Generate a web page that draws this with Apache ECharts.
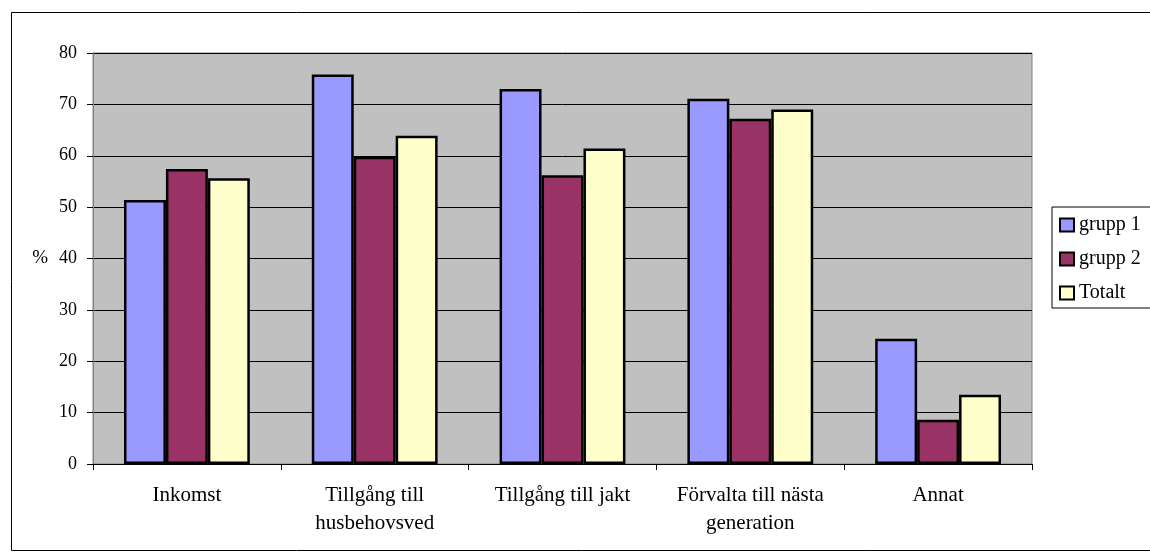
<!DOCTYPE html>
<html>
<head>
<meta charset="utf-8">
<script src="https://cdn.jsdelivr.net/npm/echarts@6/dist/echarts.min.js"></script>
<style>
  html, body { margin: 0; padding: 0; background: #fff; }
  #chart { width: 1150px; height: 557px; }
</style>
</head>
<body>
<div id="chart"></div>
<script>
// kategorier och värden (%)
var categories = ['Inkomst', 'Tillgång till\nhusbehovsved', 'Tillgång till jakt', 'Förvalta till nästa\ngeneration', 'Annat'];
var grupp1 = [51.4, 75.8, 73.0, 71.1, 24.4];
var grupp2 = [57.4, 59.8, 56.2, 67.2, 8.6];
var totalt = [55.6, 63.9, 61.4, 69.0, 13.5];
var seriesNames = ['grupp 1', 'grupp 2', 'Totalt'];
var yTicks = [0, 80, 10];

(function() {
  var myChart = echarts.init(document.getElementById('chart'));
  var font = '"Liberation Serif", "DejaVu Serif", serif';
  var colors = ['#9999ff', '#993366', '#ffffcc'];
  var data = [grupp1, grupp2, totalt];

  var option = {
    animation: false,
    textStyle: { fontFamily: font },
    graphic: [{
      type: 'rect',
      shape: { x: 11.5, y: 12.5, width: 1200, height: 538 },
      style: { fill: 'none', stroke: '#000', lineWidth: 1 },
      z: -10
    }],
    grid: {
      left: 93, top: 53, right: 118, bottom: 93,
      show: true,
      backgroundColor: '#c0c0c0',
      borderColor: '#808080',
      borderWidth: 1
    },
    legend: {
      orient: 'vertical',
      left: 1052, top: 207,
      padding: [8, 30, 5, 7],
      itemGap: 14,
      itemWidth: 14, itemHeight: 13,
      icon: 'rect',
      itemStyle: { borderColor: '#000', borderWidth: 2 },
      backgroundColor: '#fff',
      borderColor: '#000',
      borderWidth: 1,
      textStyle: { fontFamily: font, fontSize: 20, color: '#000', padding: [0, 0, 0, 0] },
      data: seriesNames
    },
    xAxis: {
      type: 'category',
      data: categories,
      axisLine: { lineStyle: { color: '#000', width: 1 } },
      axisTick: { show: true, length: 6, lineStyle: { color: '#000' } },
      axisLabel: { fontFamily: font, fontSize: 21, color: '#000', margin: 17, lineHeight: 28, interval: 0 }
    },
    yAxis: {
      type: 'value',
      min: yTicks[0], max: yTicks[1], interval: yTicks[2],
      name: '%',
      nameLocation: 'middle',
      nameRotate: 0,
      nameGap: 45,
      nameTextStyle: { fontFamily: font, fontSize: 19, color: '#000' },
      axisLine: { show: true, lineStyle: { color: '#808080' } },
      axisTick: { show: true, length: 6, lineStyle: { color: '#000' } },
      axisLabel: { fontFamily: font, fontSize: 18, color: '#000', margin: 16 },
      splitLine: { show: true, lineStyle: { color: '#000', width: 1 } }
    },
    series: seriesNames.map(function(name, i) {
      return {
        name: name,
        type: 'bar',
        data: data[i],
        barGap: '0%',
        barCategoryGap: '33%',
        itemStyle: { color: colors[i], borderColor: '#000', borderWidth: 2.5 }
      };
    })
  };

  myChart.setOption(option);
})();
</script>
</body>
</html>
